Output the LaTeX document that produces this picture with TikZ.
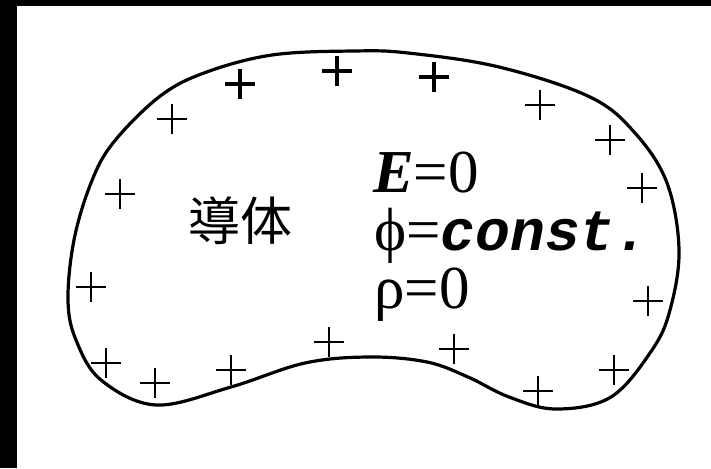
\documentclass[tikz,border=0pt]{standalone}
\usepackage{fontspec}
\setmainfont{Liberation Serif}
\newfontfamily\monofont{Liberation Mono}
\newfontfamily\cjk{Noto Sans CJK JP}
\usetikzlibrary{positioning}

\begin{document}
\begin{tikzpicture}[x=1pt, y=-1pt,
    body/.style={line width=3.2pt, line join=round},
    charge/.style={line width=2.3pt},
    boldcharge/.style={line width=4.6pt},
    eqn/.style={anchor=base west, inner sep=0pt,
                font=\fontsize{61}{66}\selectfont},
    cjklabel/.style={inner sep=0pt,
                 font=\cjk\fontsize{52}{56}\selectfont}
  ]
    % page and frame
    \fill[white] (0,0) rectangle (711,468);
    \fill[black] (0,0) rectangle (17,468);
    \fill[black] (0,0) rectangle (711,6);
    \useasboundingbox (0,0) rectangle (711,468);

    % conductor outline
    \draw[body] plot[smooth cycle, tension=0.6] coordinates {
      (354,51) (408,53) (499,67) (590,97) (635,133) (667,183) (679,250)
      (670,310) (652,350) (611,397) (556,409) (509,397) (468,377)
      (427,362) (370,357) (305,363) (231,387) (156,405) (101,380)
      (76,340) (68,300) (74,240) (91,183) (113,143) (159,97) (204,73)
      (272,55)};

    % surface charges
    \foreach \px/\py in {172/119, 120/194, 91/287, 106/363, 155/383,
                         231/370, 329/342, 454/349, 538/391, 614/370,
                         648/301, 642/188, 610/140, 540/105}
      \draw[charge] (\px-15,\py) -- (\px+15,\py) (\px,\py-15) -- (\px,\py+15);
    \foreach \px/\py in {240/84, 337/71, 434/77}
      \draw[boldcharge] (\px-15,\py) -- (\px+15,\py) (\px,\py-15) -- (\px,\py+15);

    % labels
    \node[cjklabel] (label) at (240,221) {導体};
    \node[eqn] (efield) at (373,192) {\textbf{\textit{E}}=0};
    \node[eqn] (potential) at (374,250)
      {ϕ=\monofont\bfseries\itshape\fontsize{58}{62}\selectfont const.};
    \node[eqn] (density) at (374,308) {ρ=0};
  \end{tikzpicture}
\end{document}
